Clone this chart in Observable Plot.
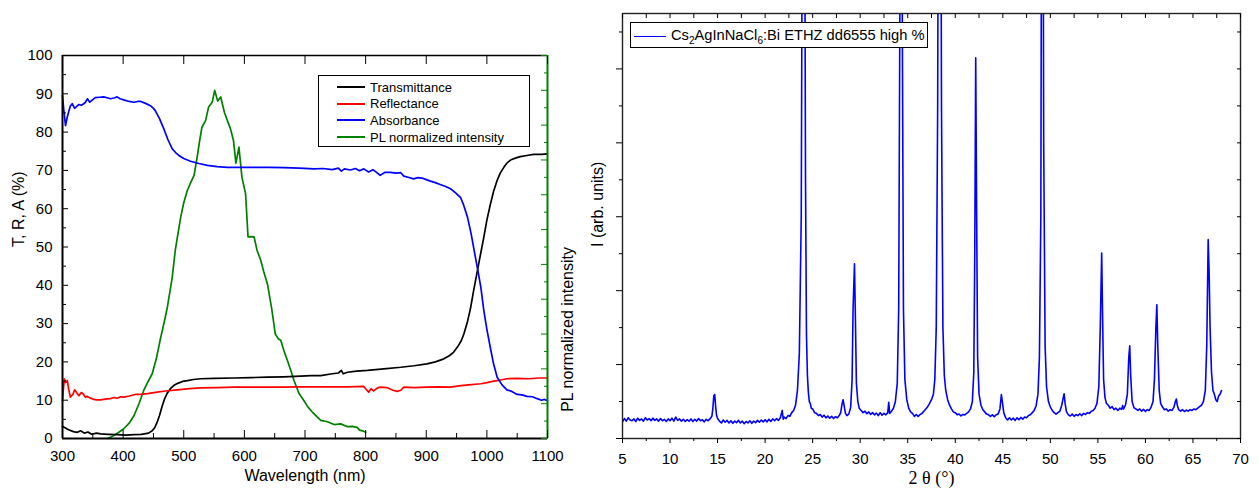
<!DOCTYPE html>
<html><head><meta charset="utf-8">
<script src="https://cdn.jsdelivr.net/npm/d3@7"></script>
<script src="https://cdn.jsdelivr.net/npm/@observablehq/plot@0.6"></script>
<style>
html,body{margin:0;padding:0;background:#fff;}
#wrap{position:relative;width:1259px;height:493px;overflow:hidden;font-family:"Liberation Sans",Arial,sans-serif;color:#000;}
#left{position:absolute;left:0;top:0;}
#right{position:absolute;left:580px;top:0;}
.legend{position:absolute;border:1px solid #000;background:#fff;box-sizing:border-box;}
.row{position:absolute;left:0;height:16px;display:flex;align-items:center;white-space:nowrap;}
.swatch{display:inline-block;height:0;border-top-width:2px;border-top-style:solid;}
</style></head>
<body>
<div id="wrap">
  <div id="left"></div>
  <div id="right"></div>
  <div class="legend" id="legL" style="left:318px;top:75px;width:212px;height:72px;font-size:13px;"></div>
  <div class="legend" style="left:630px;top:22px;width:298px;height:26px;font-size:14.7px;">
    <div class="row" style="top:3px;height:20px;">
      <span class="swatch" style="border-top-color:#0000ff;width:32px;margin-left:3px;border-top-width:1.5px;"></span>
      <span style="margin-left:5px;">Cs<sub style="font-size:10px;">2</sub>AgInNaCl<sub style="font-size:10px;">6</sub>:Bi ETHZ dd6555 high %</span>
    </div>
  </div>
</div>
<script>
// ---------- Left panel: optical spectra ----------
const seriesNames = ["Transmittance", "Reflectance", "Absorbance", "PL normalized intensity"];
const seriesColors = ["#000000", "#ff0000", "#0000ff", "#008000"];

// [wavelength nm, %]
const transmittance = [[300,3.2],[302,3.0],[310,2.3],[318,1.8],[324,1.6],[330,2.0],[336,1.4],[342,1.7],[348,1.1],[356,1.4],[363,1.2],[375,1.1],[390,1.0],[405,0.9],[418,1.0],[430,1.1],[442,1.4],[448,2.0],[452,2.8],[456,4.2],[460,6.0],[464,8.2],[468,10.2],[473,11.9],[478,13.0],[484,13.9],[490,14.4],[498,14.9],[506,15.1],[516,15.4],[528,15.6],[550,15.7],[583,15.8],[610,15.9],[638,16.0],[665,16.1],[693,16.3],[710,16.4],[726,16.4],[745,16.9],[755,17.1],[760,17.8],[763,16.9],[770,17.3],[785,17.6],[803,17.8],[830,18.2],[858,18.6],[880,19.0],[901,19.5],[915,20.0],[929,20.8],[938,21.6],[945,22.5],[952,24.0],[958,25.6],[962,27.3],[968,30.5],[973,34.0],[978,38.5],[984,43.5],[990,48.5],[995,52.6],[1000,57.0],[1006,61.3],[1011,64.5],[1017,67.4],[1022,69.3],[1028,70.8],[1033,71.9],[1039,72.7],[1047,73.2],[1055,73.6],[1066,73.9],[1077,74.2],[1090,74.2],[1100,74.3]];

const reflectance = [[300,9.8],[301,12.0],[303,15.6],[305,14.6],[308,15.1],[310,13.0],[313,10.8],[317,11.5],[320,12.7],[324,11.8],[327,11.2],[331,12.0],[334,11.7],[338,10.8],[341,11.0],[345,10.6],[350,10.3],[356,10.1],[363,10.1],[370,10.3],[379,10.4],[385,10.7],[390,10.5],[396,10.9],[401,10.8],[410,11.1],[420,11.5],[429,11.5],[440,11.7],[456,12.1],[470,12.4],[489,12.7],[510,13.0],[528,13.2],[555,13.3],[583,13.4],[620,13.4],[660,13.4],[693,13.5],[740,13.5],[770,13.5],[797,13.6],[801,12.8],[805,12.1],[809,13.0],[813,12.4],[817,12.9],[821,13.3],[825,13.4],[835,13.3],[845,12.6],[852,12.3],[858,12.6],[863,13.4],[880,13.3],[900,13.4],[920,13.5],[940,13.4],[957,13.8],[970,14.0],[990,14.3],[1000,14.6],[1011,15.0],[1020,15.2],[1033,15.6],[1050,15.7],[1070,15.6],[1085,15.8],[1100,15.8]];

const absorbance = [[300,89.5],[302,86.0],[305,81.7],[308,84.0],[310,85.2],[313,86.8],[316,87.4],[320,86.2],[324,86.8],[327,87.2],[331,87.0],[335,87.4],[338,87.8],[341,88.7],[345,87.8],[350,88.5],[354,89.0],[361,89.1],[368,89.2],[375,88.9],[379,88.7],[385,88.9],[390,89.2],[395,88.7],[401,88.4],[410,88.0],[418,87.8],[424,88.0],[429,88.0],[437,87.5],[445,86.9],[450,86.2],[453,85.6],[460,83.5],[467,80.9],[474,78.0],[481,75.6],[487,74.6],[492,73.9],[500,73.1],[511,72.4],[525,71.8],[539,71.3],[555,71.0],[572,70.8],[590,70.8],[610,70.8],[640,70.8],[665,70.7],[690,70.6],[715,70.4],[730,70.5],[745,70.2],[755,70.6],[760,69.8],[765,70.4],[775,70.1],[783,70.5],[790,69.9],[797,70.4],[805,69.6],[812,70.2],[818,69.5],[824,68.7],[832,69.5],[841,69.5],[850,69.3],[858,69.4],[863,68.5],[870,68.2],[879,67.8],[886,68.1],[893,68.0],[900,67.6],[907,67.2],[915,66.8],[923,66.3],[932,65.8],[940,65.2],[948,64.2],[957,62.8],[962,60.8],[968,57.8],[974,53.5],[979,49.1],[985,44.0],[990,39.5],[995,33.4],[1000,28.5],[1006,23.5],[1011,19.5],[1017,16.0],[1025,14.0],[1033,12.7],[1041,12.3],[1050,11.5],[1058,11.4],[1066,11.0],[1075,10.9],[1083,10.4],[1090,10.0],[1095,10.2],[1100,9.9]];

// [wavelength nm, normalized PL (0..1)] on the right (green) axis, whose range is 0..1.1
const plIntensity = [[374,0.000],[380,0.004],[385,0.009],[393,0.018],[401,0.028],[410,0.044],[418,0.066],[426,0.099],[434,0.138],[441,0.163],[448,0.186],[455,0.231],[462,0.290],[468,0.336],[473,0.377],[481,0.463],[486,0.540],[490,0.583],[495,0.636],[500,0.677],[506,0.713],[512,0.737],[517,0.756],[522,0.807],[526,0.853],[530,0.894],[536,0.913],[541,0.952],[547,0.966],[551,1.000],[556,0.969],[561,0.981],[567,0.937],[572,0.913],[577,0.890],[582,0.856],[586,0.791],[591,0.837],[596,0.750],[602,0.703],[606,0.579],[611,0.580],[616,0.579],[621,0.540],[627,0.512],[632,0.479],[638,0.444],[645,0.374],[651,0.300],[656,0.286],[660,0.282],[666,0.248],[671,0.224],[677,0.193],[682,0.166],[690,0.130],[698,0.109],[705,0.090],[712,0.076],[720,0.062],[726,0.052],[737,0.048],[748,0.040],[759,0.042],[770,0.034],[778,0.035],[786,0.032],[790,0.024],[795,0.022],[800,0.018]];

const wlTicks = [300,400,500,600,700,800,900,1000,1100];
const wlMinor = [350,450,550,650,750,850,950,1050];
const pctTicks = [0,10,20,30,40,50,60,70,80,90,100];
const pctMinor = [5,15,25,35,45,55,65,75,85,95];
const plAxisMax = 1.1;
const plMajor = [0,0.1,0.2,0.3,0.4,0.5,0.6,0.7,0.8,0.9,1.0,1.1];
const plMinor = [0.05,0.15,0.25,0.35,0.45,0.55,0.65,0.75,0.85,0.95,1.05];

// ---------- Right panel: XRD ----------
// [2θ degrees, counts]
const xrd = [[5.0,450],[5.2,540],[5.4,470],[5.6,560],[5.8,500],[6.0,480],[6.2,530],[6.4,460],[6.6,550],[6.8,490],[7.0,530],[7.2,470],[7.4,560],[7.6,500],[7.8,540],[8.0,480],[8.2,550],[8.4,490],[8.6,530],[8.8,470],[9.0,540],[9.2,480],[9.4,520],[9.6,460],[9.8,530],[10.0,480],[10.2,550],[10.4,470],[10.6,580],[10.8,490],[11.0,530],[11.2,470],[11.4,520],[11.6,460],[11.8,510],[12.0,470],[12.2,530],[12.4,460],[12.6,520],[12.8,470],[13.0,540],[13.2,480],[13.4,510],[13.6,450],[13.8,520],[14.0,480],[14.2,530],[14.4,600],[14.5,800],[14.6,1150],[14.7,1190],[14.8,850],[14.9,620],[15.0,540],[15.2,470],[15.4,420],[15.6,500],[15.8,440],[16.0,490],[16.2,420],[16.4,480],[16.6,410],[16.8,470],[17.0,430],[17.2,490],[17.4,420],[17.6,470],[17.8,400],[18.0,460],[18.2,420],[18.4,480],[18.6,410],[18.8,470],[19.0,430],[19.2,490],[19.4,440],[19.6,500],[19.8,450],[20.0,510],[20.2,450],[20.4,520],[20.6,460],[20.8,530],[21.0,480],[21.2,540],[21.4,490],[21.6,560],[21.8,760],[21.9,520],[22.0,580],[22.2,540],[22.4,620],[22.6,600],[22.8,700],[23.0,760],[23.2,900],[23.4,1300],[23.6,2300],[23.8,6000],[23.9,14000],[24.05,20000],[24.15,16000],[24.25,7000],[24.35,2800],[24.45,1700],[24.55,1250],[24.65,1000],[24.75,950],[24.85,820],[25.0,800],[25.2,700],[25.4,680],[25.6,620],[25.8,650],[26.0,580],[26.2,630],[26.4,560],[26.6,610],[26.8,550],[27.0,600],[27.2,540],[27.4,590],[27.6,560],[27.8,620],[27.95,700],[28.1,950],[28.2,1050],[28.3,900],[28.45,680],[28.6,620],[28.8,660],[29.0,850],[29.15,1600],[29.25,3500],[29.4,4730],[29.5,3200],[29.6,1500],[29.75,1000],[29.9,820],[30.1,760],[30.3,700],[30.5,740],[30.7,670],[30.9,720],[31.1,650],[31.3,700],[31.5,640],[31.7,690],[31.9,620],[32.1,700],[32.3,630],[32.5,680],[32.7,640],[32.9,700],[33.0,980],[33.1,680],[33.3,740],[33.5,820],[33.7,1000],[33.9,1500],[34.05,3500],[34.15,10000],[34.3,20000],[34.45,10000],[34.55,3500],[34.7,1600],[34.9,1050],[35.1,820],[35.3,720],[35.5,680],[35.7,600],[35.9,650],[36.1,600],[36.3,650],[36.5,680],[36.7,740],[36.9,800],[37.1,860],[37.3,950],[37.5,1050],[37.7,1200],[37.85,1600],[38.0,3000],[38.15,9000],[38.35,30000],[38.55,9000],[38.7,3000],[38.85,1700],[39.0,1300],[39.2,1050],[39.4,900],[39.6,800],[39.8,720],[40.0,700],[40.2,640],[40.4,660],[40.6,610],[40.8,650],[41.0,640],[41.2,680],[41.4,720],[41.6,800],[41.8,1000],[41.95,1800],[42.05,5000],[42.15,10300],[42.25,6000],[42.35,2200],[42.5,1200],[42.7,900],[42.9,780],[43.1,720],[43.3,660],[43.5,640],[43.7,600],[43.9,640],[44.1,590],[44.3,640],[44.5,660],[44.7,800],[44.85,1190],[44.95,1000],[45.1,700],[45.3,560],[45.5,500],[45.7,560],[45.9,500],[46.1,550],[46.3,490],[46.5,560],[46.7,510],[46.9,570],[47.1,520],[47.3,580],[47.5,560],[47.7,620],[47.9,640],[48.1,700],[48.3,760],[48.5,880],[48.7,1200],[48.85,2200],[49.0,6000],[49.15,25000],[49.3,8000],[49.45,2500],[49.6,1400],[49.8,1000],[50.0,850],[50.2,760],[50.4,700],[50.6,660],[50.8,700],[51.0,740],[51.2,900],[51.35,1100],[51.45,1210],[51.55,950],[51.7,720],[51.9,640],[52.1,610],[52.3,660],[52.5,600],[52.7,650],[52.9,620],[53.1,670],[53.3,620],[53.5,680],[53.7,650],[53.9,700],[54.1,680],[54.3,740],[54.5,760],[54.7,820],[54.9,950],[55.1,1400],[55.25,3000],[55.4,5020],[55.5,3200],[55.6,1600],[55.75,1100],[55.9,950],[56.1,900],[56.3,820],[56.5,860],[56.7,780],[56.9,820],[57.1,760],[57.3,820],[57.5,790],[57.6,890],[57.7,800],[57.9,900],[58.1,1200],[58.25,2200],[58.35,2510],[58.45,1700],[58.6,1000],[58.8,830],[59.0,800],[59.2,760],[59.4,800],[59.6,740],[59.8,790],[60.0,730],[60.2,780],[60.4,760],[60.6,850],[60.8,1000],[60.95,1600],[61.1,3000],[61.2,3620],[61.3,2500],[61.45,1300],[61.6,950],[61.8,850],[62.0,780],[62.2,800],[62.4,740],[62.6,780],[62.8,760],[63.0,850],[63.15,1000],[63.25,1070],[63.35,900],[63.5,780],[63.7,740],[63.9,780],[64.1,730],[64.3,770],[64.5,740],[64.7,780],[64.9,760],[65.1,800],[65.3,780],[65.5,820],[65.7,860],[65.9,900],[66.1,1000],[66.3,1300],[66.45,2500],[66.6,5380],[66.7,4500],[66.8,3000],[66.95,1800],[67.1,1300],[67.25,1200],[67.4,1050],[67.55,1000],[67.7,1150],[67.85,1200],[68.0,1300]];

const ttMajor = [5,10,15,20,25,30,35,40,45,50,55,60,65,70];
const ttMinor = [7.5,12.5,17.5,22.5,27.5,32.5,37.5,42.5,47.5,52.5,57.5,62.5,67.5];
const iMajor = [0,2000,4000,6000,8000,10000];
const iMinor = [1000,3000,5000,7000,9000,11000];
const iAll = [0,1000,2000,3000,4000,5000,6000,7000,8000,9000,10000,11000];

const FONT = "Liberation Sans, Arial, sans-serif";
const green = seriesColors[3];
const noText = () => "";
const plain = d => String(d);
const toPctAxis = v => v * 100 / plAxisMax;

const leftPlot = Plot.plot({
  width: 580, height: 493,
  marginLeft: 62, marginRight: 33, marginTop: 55, marginBottom: 55,
  x: {domain: [300, 1100]},
  y: {domain: [0, 100]},
  style: {fontFamily: FONT, fontSize: "15px", color: "#000", background: "transparent", overflow: "visible"},
  marks: [
    Plot.line(plIntensity, {x: d => d[0], y: d => toPctAxis(d[1]), stroke: green, strokeWidth: 1.7}),
    Plot.line(transmittance, {x: d => d[0], y: d => d[1], stroke: seriesColors[0], strokeWidth: 1.7}),
    Plot.line(reflectance, {x: d => d[0], y: d => d[1], stroke: seriesColors[1], strokeWidth: 1.7}),
    Plot.line(absorbance, {x: d => d[0], y: d => d[1], stroke: seriesColors[2], strokeWidth: 1.7}),
    // frame
    Plot.ruleY([0], {stroke: "#000", strokeWidth: 2}),
    Plot.ruleY([100], {stroke: "#000", strokeWidth: 1.5}),
    Plot.ruleX([300], {stroke: "#000", strokeWidth: 2}),
    Plot.ruleX([1100], {stroke: green, strokeWidth: 2}),
    // ticks (inward)
    Plot.axisY({ticks: pctTicks, tickSize: -6, tickFormat: noText, label: null}),
    Plot.axisY({ticks: pctMinor, tickSize: -4, tickFormat: noText, label: null}),
    Plot.axisY({ticks: pctTicks, tickSize: 0, tickPadding: 10, fontSize: 15, tickFormat: plain, label: null}),
    Plot.axisX({ticks: wlTicks, tickSize: -8, tickFormat: noText, label: null}),
    Plot.axisX({ticks: wlMinor, tickSize: -5, tickFormat: noText, label: null}),
    Plot.axisX({ticks: wlTicks, tickSize: 0, tickPadding: 12, fontSize: 15, tickFormat: plain, label: null}),
    Plot.axisX({anchor: "top", ticks: wlTicks, tickSize: -8, tickFormat: noText, label: null}),
    Plot.axisY({anchor: "right", ticks: plMajor.map(toPctAxis), tickSize: -7, tickFormat: noText, stroke: green, label: null}),
    Plot.axisY({anchor: "right", ticks: plMinor.map(toPctAxis), tickSize: -4, tickFormat: noText, stroke: green, label: null}),
    // titles
    Plot.text(["T, R, A (%)"], {frameAnchor: "left", rotate: -90, dx: -44, fontSize: 16}),
    Plot.text(["PL normalized intensity"], {frameAnchor: "right", rotate: -90, dx: 20, fontSize: 16}),
    Plot.text(["Wavelength (nm)"], {frameAnchor: "bottom", dy: 42, fontSize: 16})
  ]
});
document.getElementById("left").appendChild(leftPlot);

const rightPlot = Plot.plot({
  width: 679, height: 493,
  marginLeft: 42, marginRight: 19, marginTop: 13, marginBottom: 55,
  x: {domain: [5, 70]},
  y: {domain: [0, 11500]},
  style: {fontFamily: FONT, fontSize: "15px", color: "#000", background: "transparent", overflow: "visible"},
  marks: [
    Plot.line(xrd, {x: d => d[0], y: d => d[1], stroke: "#0000ff", strokeWidth: 1.6, clip: true}),
    Plot.frame({stroke: "#222", strokeWidth: 1.4}),
    Plot.axisX({ticks: ttMajor, tickSize: 5, tickFormat: noText, label: null}),
    Plot.axisX({ticks: ttMinor, tickSize: 3, tickFormat: noText, label: null}),
    Plot.axisX({ticks: ttMajor, tickSize: 0, tickPadding: 15, fontSize: 15, tickFormat: plain, label: null}),
    Plot.axisX({anchor: "top", ticks: ttMajor.concat(ttMinor), tickSize: -4, tickFormat: noText, label: null}),
    Plot.axisY({ticks: iMajor, tickSize: 6, tickFormat: noText, label: null}),
    Plot.axisY({ticks: iMinor, tickSize: 3, tickFormat: noText, label: null}),
    Plot.axisY({anchor: "right", ticks: iAll, tickSize: -4, tickFormat: noText, label: null}),
    Plot.text(["I (arb. units)"], {frameAnchor: "left", rotate: -90, dx: -25, dy: 21, fontSize: 16}),
    Plot.text(["2 θ (°)"], {frameAnchor: "bottom", dy: 45, fontSize: 18, fontFamily: "Liberation Serif, Times New Roman, serif"})
  ]
});
document.getElementById("right").appendChild(rightPlot);

// legend for left panel
const leg = document.getElementById("legL");
seriesNames.forEach((name, i) => {
  const row = document.createElement("div");
  row.className = "row";
  row.style.top = (3 + i * 16.7) + "px";
  row.innerHTML = `<span class="swatch" style="border-top-color:${seriesColors[i]};width:28px;margin-left:18px;"></span><span style="margin-left:5px;">${name}</span>`;
  leg.appendChild(row);
});
</script>
</body></html>
